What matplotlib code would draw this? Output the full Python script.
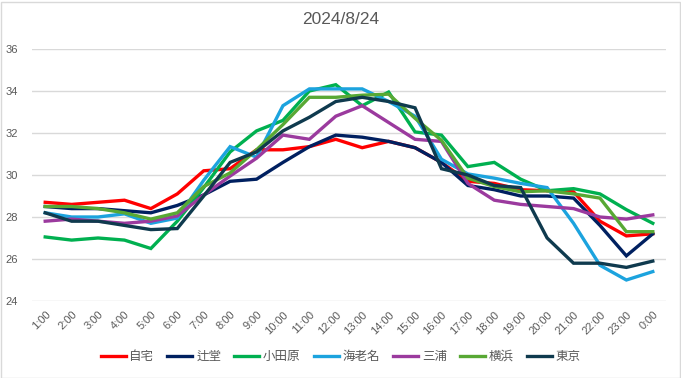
import matplotlib
matplotlib.use("Agg")
import matplotlib.pyplot as plt
from matplotlib.patches import Rectangle

plt.rcParams['font.family'] = ['Liberation Sans', 'Noto Sans CJK JP', 'DejaVu Sans']

# hours on the x axis
hours = ["1:00", "2:00", "3:00", "4:00", "5:00", "6:00", "7:00", "8:00", "9:00", "10:00",
         "11:00", "12:00", "13:00", "14:00", "15:00", "16:00", "17:00", "18:00", "19:00",
         "20:00", "21:00", "22:00", "23:00", "0:00"]

# temperatures
jitaku = [28.7, 28.6, 28.7, 28.8, 28.4, 29.1, 30.2, 30.3, 31.2, 31.2, 31.35, 31.7,
          31.3, 31.6, 31.3, 30.6, 29.7, 29.6, 29.3, 29.25, 29.2, 27.8, 27.1, 27.2]
tsujido = [28.5, 28.4, 28.4, 28.3, 28.2, 28.55, 29.05, 29.7, 29.8, 30.6, 31.35, 31.9,
           31.8, 31.6, 31.3, 30.6, 29.5, 29.3, 29.0, 29.0, 28.9, 27.6, 26.15, 27.2]
odawara = [27.05, 26.9, 27.0, 26.9, 26.5, 27.8, 29.4, 31.1, 32.1, 32.6, 34.0, 34.3,
           33.3, 33.95, 32.05, 31.9, 30.4, 30.6, 29.8, 29.25, 29.35, 29.1, 28.35, 27.7]
ebina = [28.2, 28.0, 28.0, 28.15, 27.7, 27.95, 29.75, 31.35, 30.85, 33.3, 34.1, 34.1,
         34.1, 33.5, 32.8, 30.75, 30.05, 29.85, 29.6, 29.4, 27.7, 25.7, 25.0, 25.4]
miura = [27.8, 27.9, 27.8, 27.7, 27.8, 28.05, 29.05, 29.95, 30.8, 31.9, 31.7, 32.8,
         33.3, 32.5, 31.7, 31.6, 29.6, 28.8, 28.6, 28.5, 28.4, 28.0, 27.9, 28.1]
yokohama = [28.5, 28.5, 28.4, 28.2, 27.9, 28.2, 29.45, 30.1, 31.2, 32.4, 33.7, 33.7,
            33.8, 33.85, 32.7, 31.65, 29.85, 29.45, 29.2, 29.25, 29.1, 28.9, 27.3, 27.3]
tokyo = [28.2, 27.8, 27.8, 27.6, 27.4, 27.45, 29.0, 30.6, 31.1, 32.1, 32.75, 33.5,
         33.7, 33.5, 33.2, 30.3, 30.0, 29.5, 29.4, 27.0, 25.8, 25.8, 25.6, 25.9]

names = ["自宅", "辻堂", "小田原", "海老名", "三浦", "横浜", "東京"]
colors = ["#FF0000", "#002060", "#00B050", "#1CA3DE", "#9B3A9E", "#58A834", "#0F3A4E"]
series = [jitaku, tsujido, odawara, ebina, miura, yokohama, tokyo]

fig = plt.figure(figsize=(6.81, 3.78), dpi=100)
ax = fig.add_axes([32 / 681, 1 - 301 / 378, 634 / 681, 252 / 378])

x = range(len(hours))
for vals, name, c in zip(series, names, colors):
    ax.plot(x, vals, color=c, lw=2.4, label=name, solid_joinstyle='miter')

ax.set_xlim(-0.5, len(hours) - 0.5)
ax.set_ylim(24, 36)
ax.set_yticks(range(24, 37, 2))
ax.set_xticks(list(x))
ax.set_xticklabels(hours, rotation=45, ha='right', rotation_mode='anchor')
ax.tick_params(colors='#595959', labelsize=8, length=0)
ax.tick_params(axis='x', pad=6)
ax.tick_params(axis='y', pad=10)
ax.grid(axis='y', color='#D9D9D9', lw=1)
ax.set_axisbelow(True)
for s in ax.spines.values():
    s.set_visible(False)

fig.text(0.5, 1 - 20 / 378, "2024/8/24", ha='center', va='center',
         fontsize=12.5, color='#595959')

fig.legend(loc='center', bbox_to_anchor=(0.5, 1 - 357 / 378), ncol=7, frameon=False,
           fontsize=9, handlelength=2.0, handletextpad=0.3, columnspacing=1.05,
           labelcolor='#595959')

# chart border
fig.patches.append(Rectangle((0.5 / 681, 0.5 / 378), 679 / 681, 376 / 378,
                             transform=fig.transFigure, fill=False,
                             edgecolor='#D9D9D9', lw=1))

fig.savefig("out.png", dpi=100)
